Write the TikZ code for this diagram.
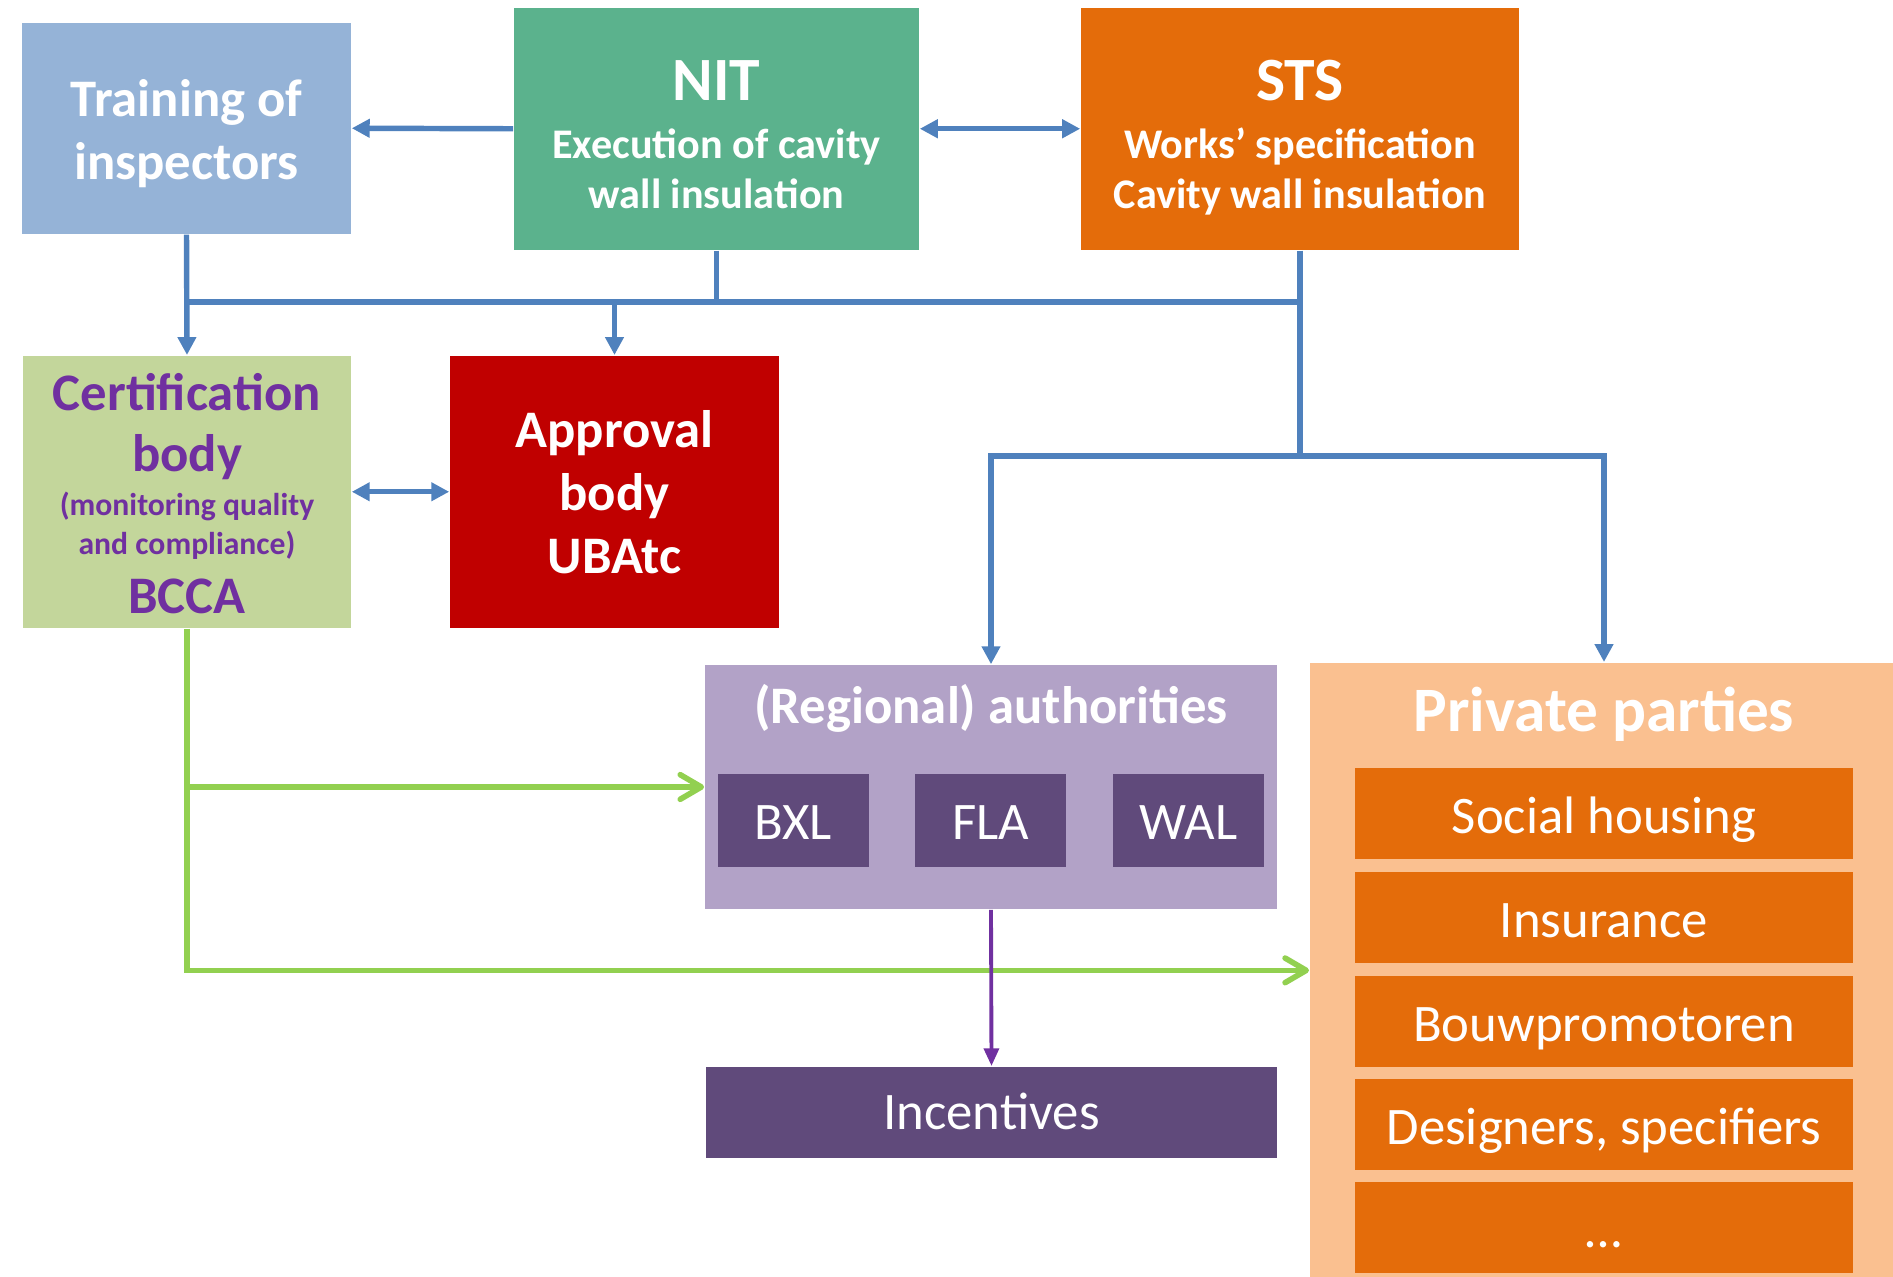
\documentclass[tikz,border=0pt]{standalone}
\usepackage{fontspec}
\setmainfont{Carlito}
\usetikzlibrary{arrows.meta}

\definecolor{trainblue}{HTML}{95B3D7}
\definecolor{nitgreen}{HTML}{5BB28D}
\definecolor{stsorange}{HTML}{E46C0A}
\definecolor{certgreen}{HTML}{C3D69B}
\definecolor{certpurple}{HTML}{7030A0}
\definecolor{apprred}{HTML}{C00000}
\definecolor{authlilac}{HTML}{B2A2C7}
\definecolor{authdark}{HTML}{604A7B}
\definecolor{privpeach}{HTML}{FAC090}
\definecolor{linkblue}{HTML}{4F81BD}
\definecolor{linkgreen}{HTML}{92D050}

\begin{document}
\begin{tikzpicture}[
        x=0.01cm, y=-0.01cm,
        box/.style={inner sep=0pt, align=flush center, text=white, anchor=north},
        bigtext/.style={font=\bfseries\fontsize{15}{17.9}\selectfont},
        headtext/.style={font=\bfseries\fontsize{12}{14.2}\selectfont},
        plaintext/.style={font=\fontsize{15}{18}\selectfont},
        region/.style={box, plaintext, fill=authdark, text width=1.51cm, text height=0.66cm, text depth=0.27cm},
        party/.style={box, plaintext, fill=stsorange, text width=4.98cm, text height=0.66cm, text depth=0.25cm},
        link/.style={draw=linkblue, line width=1.55pt},
        flow/.style={link, -{Triangle[length=5.1pt,width=5.1pt]}},
        twoway/.style={link, {Triangle[length=5.1pt,width=5.1pt]}-{Triangle[length=5.1pt,width=5.1pt]}},
        check/.style={draw=linkgreen, line width=1.6pt, -{Straight Barb[length=6pt,width=7pt,round]}},
        grant/.style={draw=certpurple, line width=1.1pt, -{Triangle[length=5pt,width=4.2pt]}}
    ]
        \useasboundingbox (0,0) rectangle (1893,1277);
        % top row
        \node[box, bigtext, fill=trainblue, text width=3.29cm, text height=0.94cm, text depth=1.17cm] (train) at (186.5,22) {Training of\\inspectors};
        \node[box, headtext, fill=nitgreen, text width=4.05cm, text height=0.93cm, text depth=1.49cm] (nit) at (716.5,7) {{\fontsize{17.5}{17.5}\selectfont NIT}\\[2.3pt]Execution of cavity\\wall insulation};
        \node[box, headtext, fill=stsorange, text width=4.38cm, text height=0.93cm, text depth=1.49cm] (sts) at (1300,7) {{\fontsize{17.5}{17.5}\selectfont STS}\\[2.3pt]Works’ specification\\Cavity wall insulation};
        % bodies
        \node[box, font=\bfseries\fontsize{15}{12.5}\selectfont, text=certpurple, fill=certgreen, text width=3.28cm, text height=0.55cm, text depth=2.17cm] (cert) at (187,355) {Certification\\[4.9pt]body\\{\fontsize{9}{9}\selectfont(monitoring quality}\\[-1.4pt]{\fontsize{9}{9}\selectfont and compliance)}\\[4.3pt]BCCA};
        \node[box, bigtext, fill=apprred, text width=3.29cm, text height=0.92cm, text depth=1.80cm] (appr) at (614.5,355) {Approval\\body\\UBAtc};
        % authorities
        \node[fill=authlilac, minimum width=5.72cm, minimum height=2.44cm, inner sep=0pt] (auth) at (991,787) {};
        \node[bigtext, text=white, anchor=base] (authtitle) at (991,724) {(Regional) authorities};
        \node[region] (bxl) at (793.5,773) {BXL};
        \node[region] (fla) at (990.5,773) {FLA};
        \node[region] (wal) at (1188.5,773) {WAL};
        \node[box, plaintext, fill=authdark, text width=5.71cm, text height=0.63cm, text depth=0.28cm] (inc) at (991.5,1066) {Incentives};
        % private parties
        \node[fill=privpeach, minimum width=5.84cm, minimum height=6.15cm, inner sep=0pt, anchor=north west] (priv) at (1309,662) {};
        \node[font=\bfseries\fontsize{18}{18}\selectfont, text=white, anchor=base] (privtitle) at (1604,732) {Private parties};
        \node[party] (social) at (1604,767) {Social housing};
        \node[party] (insur) at (1604,871) {Insurance};
        \node[party] (promo) at (1604,975) {Bouwpromotoren};
        \node[party] (design) at (1604,1078) {Designers, specifiers};
        \node[party] (more) at (1604,1181) {…};
        % connectors
        \coordinate (bus) at (716.5,302);
        \coordinate (split) at (1300,456);
        \draw[flow] (nit.west) -- (train.east);
        \draw[twoway] (nit.east) -- (sts.west);
        \draw[link] (nit.south) -- (bus);
        \draw[link] (train.south |- bus) -- (sts.south |- bus);
        \draw[flow] (train.south) -- (cert.north);
        \draw[flow] (appr.north |- bus) -- (appr.north);
        \draw[link] (sts.south) -- (split);
        \draw[flow] (split) -| (auth.north);
        \draw[flow] (split) -| (social.north |- priv.north);
        \draw[twoway] (cert.east) -- (appr.west);
        \draw[check] (cert.south) |- (priv.west);
        \draw[check] (cert.south |- auth.west) -- (auth.west);
        \draw[grant] (auth.south) -- (inc.north);
    \end{tikzpicture}
\end{document}
